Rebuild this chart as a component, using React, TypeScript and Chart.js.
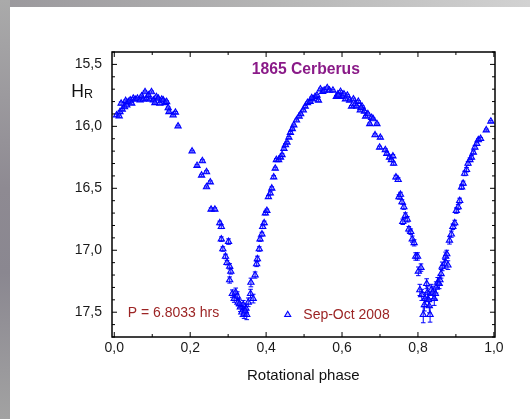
import React, { useEffect, useRef } from 'react';
import { Chart, registerables } from 'chart.js';

Chart.register(...registerables);

// ---- data ----
const PHASE = [
  0.006, 0.013, 0.015, 0.018, 0.021, 0.027, 0.030, 0.033, 0.037, 0.042,
  0.046, 0.050, 0.055, 0.061, 0.068, 0.072, 0.076, 0.081, 0.085, 0.090,
  0.094, 0.098, 0.103, 0.107, 0.111, 0.116, 0.120, 0.125, 0.129, 0.134,
  0.138, 0.142, 0.144, 0.155, 0.161, 0.168,
  0.205, 0.218, 0.232, 0.230, 0.243, 0.243, 0.253, 0.255, 0.265,
  0.278, 0.282, 0.282, 0.286, 0.301, 0.293, 0.297, 0.304, 0.307, 0.304,
  0.311, 0.316, 0.320, 0.324, 0.326, 0.332, 0.336, 0.340, 0.342, 0.347,
  0.349, 0.353, 0.359, 0.360, 0.366, 0.371, 0.375, 0.377, 0.382, 0.384,
  0.389, 0.391, 0.395, 0.398, 0.402, 0.406, 0.411, 0.415, 0.420, 0.424,
  0.427, 0.433, 0.438, 0.442, 0.447, 0.451, 0.455, 0.460, 0.464, 0.469,
  0.473, 0.480, 0.487, 0.491, 0.498, 0.503, 0.509, 0.516, 0.522, 0.529,
  0.534, 0.538, 0.543, 0.549, 0.553, 0.561, 0.567, 0.576, 0.585, 0.589,
  0.596, 0.600, 0.605, 0.609, 0.614, 0.620, 0.625, 0.630, 0.635, 0.639,
  0.643, 0.648, 0.653, 0.659, 0.662, 0.668, 0.673, 0.678, 0.682, 0.692,
  0.687, 0.701, 0.699, 0.714, 0.718, 0.725, 0.730, 0.734, 0.736, 0.742,
  0.748, 0.750, 0.754, 0.758, 0.763, 0.760, 0.767, 0.772, 0.776, 0.781,
  0.785, 0.790, 0.794, 0.799, 0.801, 0.808, 0.805, 0.810, 0.814, 0.819,
  0.823, 0.825, 0.828, 0.832, 0.835, 0.839, 0.843, 0.848, 0.852, 0.856,
  0.861, 0.864, 0.870, 0.873, 0.876, 0.879, 0.883, 0.888, 0.892, 0.897,
  0.901, 0.906, 0.910, 0.915, 0.919, 0.923, 0.928, 0.932, 0.937, 0.941,
  0.946, 0.950, 0.955, 0.959, 0.965, 0.980, 0.992,
  0.330, 0.345, 0.817, 0.830, 0.846, 0.858, 0.520, 0.590, 0.650,
];

const MAG = [
  15.910, 15.918, 15.883, 15.815, 15.864, 15.843, 15.794, 15.829, 15.802, 15.789,
  15.815, 15.775, 15.783, 15.775, 15.789, 15.756, 15.783, 15.722, 15.775, 15.748,
  15.783, 15.722, 15.789, 15.810, 15.762, 15.775, 15.815, 15.783, 15.789, 15.810,
  15.802, 15.851, 15.883, 15.910, 15.888, 15.999,
  16.201, 16.317, 16.279, 16.395, 16.368, 16.489, 16.45, 16.67, 16.67,
  16.78, 16.81, 16.91, 16.99, 16.93, 17.05, 17.10, 17.13, 17.17, 17.24,
  17.35, 17.39, 17.34, 17.37, 17.42, 17.46, 17.50, 17.44, 17.51, 17.47,
  17.52, 17.42, 17.35, 17.26, 17.39, 17.20, 17.11, 17.07, 16.99, 16.91,
  16.87, 16.81, 16.78, 16.70, 16.68, 16.57, 16.54, 16.50, 16.41, 16.34,
  16.27, 16.27, 16.25, 16.23, 16.18, 16.15, 16.13, 16.09, 16.05, 16.02,
  15.99, 15.95, 15.92, 15.90, 15.87, 15.84, 15.81, 15.80, 15.78, 15.76,
  15.75, 15.79, 15.70, 15.72, 15.71, 15.69, 15.71, 15.71, 15.76, 15.74,
  15.72, 15.76, 15.74, 15.78, 15.75, 15.79, 15.84, 15.78, 15.82, 15.84,
  15.80, 15.87, 15.84, 15.88, 15.92, 15.90, 15.98, 15.93, 15.94, 15.98,
  16.07, 16.09, 16.17, 16.19, 16.22, 16.25, 16.27, 16.24, 16.30, 16.41,
  16.43, 16.57, 16.55, 16.61, 16.65, 16.77, 16.72, 16.75, 16.83, 16.85,
  16.91, 16.94, 17.05, 17.05, 17.17, 17.14, 17.32, 17.36, 17.52, 17.39,
  17.27, 17.34, 17.40, 17.52, 17.32, 17.34, 17.39, 17.30, 17.26, 17.27,
  17.19, 17.13, 17.11, 17.05, 17.03, 17.12, 16.92, 16.87, 16.81, 16.78,
  16.68, 16.65, 16.60, 16.49, 16.46, 16.38, 16.35, 16.30, 16.27, 16.25,
  16.21, 16.17, 16.14, 16.11, 16.10, 16.03, 15.96,
  17.43, 17.49, 17.44, 17.45, 17.35, 17.24, 15.77, 15.75, 15.85,
];

const ERR = [
  0.010, 0.010, 0.010, 0.012, 0.008, 0.008, 0.008, 0.008, 0.008, 0.008,
  0.008, 0.008, 0.008, 0.008, 0.008, 0.008, 0.008, 0.008, 0.008, 0.008,
  0.008, 0.008, 0.008, 0.008, 0.008, 0.008, 0.008, 0.008, 0.008, 0.008,
  0.008, 0.008, 0.008, 0.008, 0.008, 0.008,
  0.008, 0.008, 0.010, 0.008, 0.010, 0.008, 0.010, 0.012, 0.012,
  0.015, 0.015, 0.018, 0.018, 0.022, 0.018, 0.018, 0.022, 0.022, 0.025,
  0.030, 0.030, 0.035, 0.035, 0.030, 0.035, 0.035, 0.035, 0.040, 0.035,
  0.040, 0.035, 0.035, 0.035, 0.035, 0.025, 0.022, 0.022, 0.018, 0.018,
  0.015, 0.015, 0.015, 0.015, 0.012, 0.012, 0.012, 0.012, 0.012, 0.010,
  0.010, 0.010, 0.010, 0.010, 0.010, 0.010, 0.008, 0.008, 0.008, 0.008,
  0.008, 0.008, 0.008, 0.008, 0.008, 0.008, 0.008, 0.008, 0.008, 0.008,
  0.008, 0.008, 0.008, 0.008, 0.008, 0.008, 0.008, 0.008, 0.008, 0.008,
  0.008, 0.008, 0.008, 0.008, 0.008, 0.008, 0.008, 0.008, 0.008, 0.008,
  0.008, 0.008, 0.008, 0.008, 0.008, 0.008, 0.008, 0.008, 0.008, 0.008,
  0.010, 0.010, 0.010, 0.010, 0.010, 0.012, 0.012, 0.012, 0.012, 0.015,
  0.015, 0.018, 0.018, 0.018, 0.020, 0.022, 0.022, 0.022, 0.022, 0.022,
  0.025, 0.025, 0.030, 0.030, 0.035, 0.030, 0.045, 0.045, 0.065, 0.050,
  0.040, 0.045, 0.055, 0.060, 0.045, 0.050, 0.055, 0.045, 0.040, 0.040,
  0.035, 0.035, 0.035, 0.035, 0.030, 0.035, 0.030, 0.025, 0.022, 0.022,
  0.022, 0.020, 0.020, 0.018, 0.018, 0.018, 0.018, 0.015, 0.015, 0.015,
  0.012, 0.012, 0.012, 0.010, 0.010, 0.008, 0.008,
  0.035, 0.040, 0.050, 0.055, 0.045, 0.040, 0.008, 0.008, 0.008,
];

const X_TICKS = [0, 0.2, 0.4, 0.6, 0.8, 1.0];
const Y_TICKS = [15.5, 16.0, 16.5, 17.0, 17.5];
const TITLE = '1865 Cerberus';
const PERIOD_LABEL = 'P = 6.8033 hrs';
const SERIES_LABEL = 'Sep-Oct 2008';
const X_TITLE = 'Rotational phase';
const Y_TITLE_MAIN = 'H';
const Y_TITLE_SUB = 'R';

const FONT = '"Liberation Sans", Arial, sans-serif';
const BLUE = '#0000ff';
const MARK_FILL = 'rgba(90,90,255,0.3)';
const DARK_RED = '#9c2424';
const PURPLE = '#8a1a88';

const fmt = (v: number) => v.toFixed(1).replace('.', ',');

function drawTriangle(ctx: CanvasRenderingContext2D, x: number, y: number, r: number) {
  ctx.beginPath();
  ctx.moveTo(x, y - r);
  ctx.lineTo(x + r * 0.866, y + r * 0.5);
  ctx.lineTo(x - r * 0.866, y + r * 0.5);
  ctx.closePath();
  ctx.fillStyle = MARK_FILL;
  ctx.fill();
  ctx.strokeStyle = BLUE;
  ctx.lineWidth = 1.1;
  ctx.stroke();
}

const decorPlugin = {
  id: 'decor',
  beforeDatasetsDraw(chart: any) {
    const ctx = chart.ctx as CanvasRenderingContext2D;
    const xs = chart.scales.x;
    const ys = chart.scales.y;
    ctx.save();
    ctx.strokeStyle = BLUE;
    ctx.lineWidth = 1;
    for (let i = 0; i < PHASE.length; i++) {
      const x = xs.getPixelForValue(PHASE[i]);
      const y1 = ys.getPixelForValue(MAG[i] - ERR[i]);
      const y2 = ys.getPixelForValue(MAG[i] + ERR[i]);
      ctx.beginPath();
      ctx.moveTo(x, y1);
      ctx.lineTo(x, y2);
      ctx.moveTo(x - 2.3, y1);
      ctx.lineTo(x + 2.3, y1);
      ctx.moveTo(x - 2.3, y2);
      ctx.lineTo(x + 2.3, y2);
      ctx.stroke();
    }
    ctx.restore();
  },
  afterDraw(chart: any) {
    const ctx = chart.ctx as CanvasRenderingContext2D;
    const { left, right, top, bottom } = chart.chartArea;
    const xs = chart.scales.x;
    const ys = chart.scales.y;
    ctx.save();
    // frame
    ctx.strokeStyle = '#000';
    ctx.lineWidth = 1.5;
    ctx.strokeRect(left, top, right - left, bottom - top);
    // ticks
    ctx.lineWidth = 1;
    ctx.beginPath();
    for (let k = 0; k <= 10; k++) {
      const v = k / 10;
      const x = xs.getPixelForValue(v);
      const len = k % 2 === 0 ? 5 : 3;
      ctx.moveTo(x, bottom);
      ctx.lineTo(x, bottom - len);
      ctx.moveTo(x, top);
      ctx.lineTo(x, top + len);
    }
    for (let k = 154; k <= 177; k++) {
      const v = k / 10;
      const y = ys.getPixelForValue(v);
      const len = k % 5 === 0 ? 5 : 3;
      ctx.moveTo(left, y);
      ctx.lineTo(left + len, y);
      ctx.moveTo(right, y);
      ctx.lineTo(right - len, y);
    }
    ctx.stroke();

    // title
    ctx.textBaseline = 'middle';
    ctx.textAlign = 'center';
    ctx.fillStyle = PURPLE;
    ctx.font = `bold 15.7px ${FONT}`;
    ctx.fillText(TITLE, 305.8, 69.5);

    // axis titles
    ctx.fillStyle = '#111';
    ctx.font = `15px ${FONT}`;
    ctx.textBaseline = 'alphabetic';
    ctx.fillText(X_TITLE, 303.3, 379.5);

    ctx.textAlign = 'left';
    ctx.font = `17.5px ${FONT}`;
    ctx.fillText(Y_TITLE_MAIN, 71.2, 96.6);
    ctx.font = `12.5px ${FONT}`;
    ctx.fillText(Y_TITLE_SUB, 84, 98.4);

    // annotations
    ctx.fillStyle = DARK_RED;
    ctx.font = `14px ${FONT}`;
    ctx.fillText(PERIOD_LABEL, 127.7, 316.6);
    ctx.fillText(SERIES_LABEL, 303.3, 319.2);
    drawTriangle(ctx, 287.7, 314.8, 3.5);
    ctx.restore();
  },
};

export default function App() {
  const ref = useRef<HTMLCanvasElement>(null);

  useEffect(() => {
    if (!ref.current) return;
    const chart = new Chart(ref.current, {
      type: 'scatter',
      data: {
        datasets: [
          {
            label: SERIES_LABEL,
            data: PHASE.map((x, i) => ({ x, y: MAG[i] })),
            pointStyle: 'triangle',
            pointRadius: 3.6,
            pointHoverRadius: 3.6,
            borderColor: BLUE,
            backgroundColor: MARK_FILL,
            borderWidth: 1.1,
          },
        ],
      },
      options: {
        responsive: false,
        animation: false,
        devicePixelRatio: 1,
        layout: { padding: { left: 0, top: 52, right: 35, bottom: 42 } },
        plugins: {
          legend: { display: false },
          tooltip: { enabled: false },
          title: { display: false },
        },
        scales: {
          x: {
            type: 'linear',
            min: -0.006,
            max: 1.003,
            grid: { display: false, drawTicks: false },
            border: { display: false },
            afterBuildTicks: (s: any) => {
              s.ticks = X_TICKS.map((v) => ({ value: v }));
            },
            afterFit: (s: any) => {
              s.height = 40;
            },
            ticks: {
              padding: 3,
              color: '#1a1a1a',
              font: { family: FONT, size: 14 },
              callback: (v: any) => fmt(Number(v)),
            },
          },
          y: {
            type: 'linear',
            reverse: true,
            min: 15.4,
            max: 17.7,
            grid: { display: false, drawTicks: false },
            border: { display: false },
            afterBuildTicks: (s: any) => {
              s.ticks = Y_TICKS.map((v) => ({ value: v }));
            },
            afterFit: (s: any) => {
              s.width = 112;
            },
            ticks: {
              padding: 10,
              color: '#1a1a1a',
              font: { family: FONT, size: 14 },
              callback: (v: any) => fmt(Number(v)),
            },
          },
        },
      },
      plugins: [decorPlugin],
    });
    return () => chart.destroy();
  }, []);

  return (
    <div
      style={{
        position: 'fixed',
        left: 0,
        top: 0,
        width: 530,
        height: 419,
        background: 'linear-gradient(90deg, #9a989c 0%, #b4b4b4 50%, #d2d2d2 100%)',
        overflow: 'hidden',
      }}
    >
      <div
        style={{
          position: 'absolute',
          left: 0,
          top: 0,
          width: 10,
          height: 419,
          background: 'linear-gradient(180deg, #aaaaaa 0%, #8e8a92 45%, #8a8790 65%, #a2a2a2 100%)',
        }}
      />
      <div
        style={{
          position: 'absolute',
          left: 10,
          top: 7,
          width: 520,
          height: 412,
          background: '#ffffff',
        }}
      />
      <canvas
        ref={ref}
        width={530}
        height={419}
        style={{ position: 'absolute', left: 0, top: 0, width: 530, height: 419 }}
      />
    </div>
  );
}
